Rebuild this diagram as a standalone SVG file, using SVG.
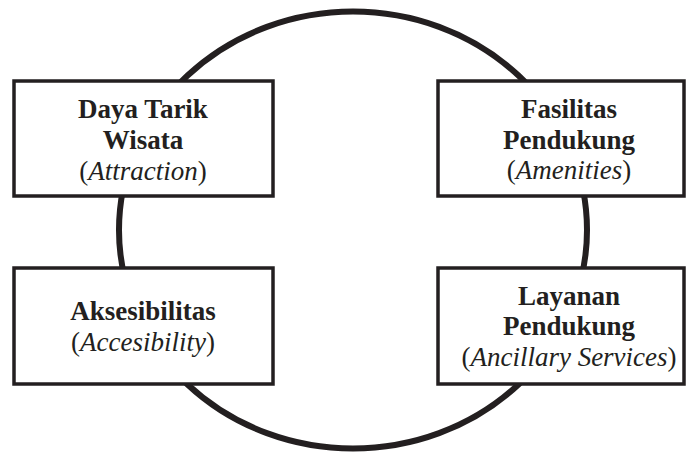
<svg xmlns="http://www.w3.org/2000/svg" width="689" height="454" viewBox="0 0 689 454">
<style>
.ring{fill:none;stroke:#231f20;stroke-width:6}
.box{fill:#fff;stroke:#231f20;stroke-width:3.5}
text{font-family:"Liberation Serif","Times New Roman",serif;font-size:27px;fill:#231f20;text-anchor:middle}
.b{font-weight:bold}
.i{font-style:italic}
</style>
<rect width="689" height="454" fill="#fff"/>
<g id="connectors">
<ellipse class="ring" cx="353" cy="230" rx="234" ry="218.5"/>
</g>
<g id="attraction">
<rect class="box" x="14" y="81" width="259" height="115"/>
<text class="b" x="143" y="118">Daya Tarik</text>
<text class="b" x="143" y="148.5">Wisata</text>
<text x="143" y="179.5">(<tspan class="i">Attraction</tspan>)</text>
</g>
<g id="amenities">
<rect class="box" x="438" y="81" width="246" height="115"/>
<text class="b" x="569" y="118">Fasilitas</text>
<text class="b" x="569" y="148.5">Pendukung</text>
<text x="569" y="179">(<tspan class="i">Amenities</tspan>)</text>
</g>
<g id="accesibility">
<rect class="box" x="14" y="268" width="259" height="116"/>
<text class="b" x="143" y="320">Aksesibilitas</text>
<text x="143" y="350.5">(<tspan class="i">Accesibility</tspan>)</text>
</g>
<g id="ancillary">
<rect class="box" x="438" y="268" width="246" height="116"/>
<text class="b" x="569" y="305">Layanan</text>
<text class="b" x="569" y="335">Pendukung</text>
<text x="569" y="365.5">(<tspan class="i">Ancillary Services</tspan>)</text>
</g>
</svg>
